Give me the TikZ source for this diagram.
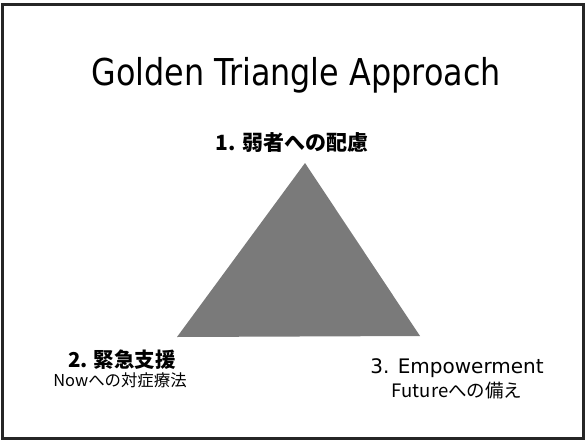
\documentclass[tikz,border=0pt]{standalone}
\usepackage{fontspec}
\setmainfont{DejaVu Sans}
\newfontfamily\jp{Noto Sans CJK JP}
\begin{document}
\begin{tikzpicture}[x=1pt,y=-1pt,
  lbl/.style={inner sep=0pt, anchor=center, text=black}]
\useasboundingbox (0,0) rectangle (585,441);
\draw[line width=3pt, black!85] (2.5,5) rectangle (583.5,438.5);
\node[lbl, font=\fontsize{37}{40}\selectfont] (title) at (296,75) {\scalebox{0.86}[1]{Golden Triangle Approach}};
\coordinate (apex) at (305,163);
\coordinate (bl) at (177,337);
\coordinate (br) at (420,336);
\fill[black!52] (apex) -- (br) -- (bl) -- cycle;
\node[lbl, font=\jp\bfseries\fontsize{21}{23}\selectfont] (n1) at (292,143) {1. 弱者への配慮};
\node[lbl, font=\jp\bfseries\fontsize{20.5}{23}\selectfont] (n2) at (122,360) {2. 緊急支援};
\node[lbl, font=\jp\fontsize{16.4}{18}\selectfont] (n2s) at (120,380) {Nowへの対症療法};
\node[lbl, font=\fontsize{20}{22}\selectfont] (n3) at (457,368) {3. Empowerment};
\node[lbl, font=\jp\fontsize{18.5}{20}\selectfont] (n3s) at (457,391) {Futureへの備え};
\end{tikzpicture}
\end{document}
